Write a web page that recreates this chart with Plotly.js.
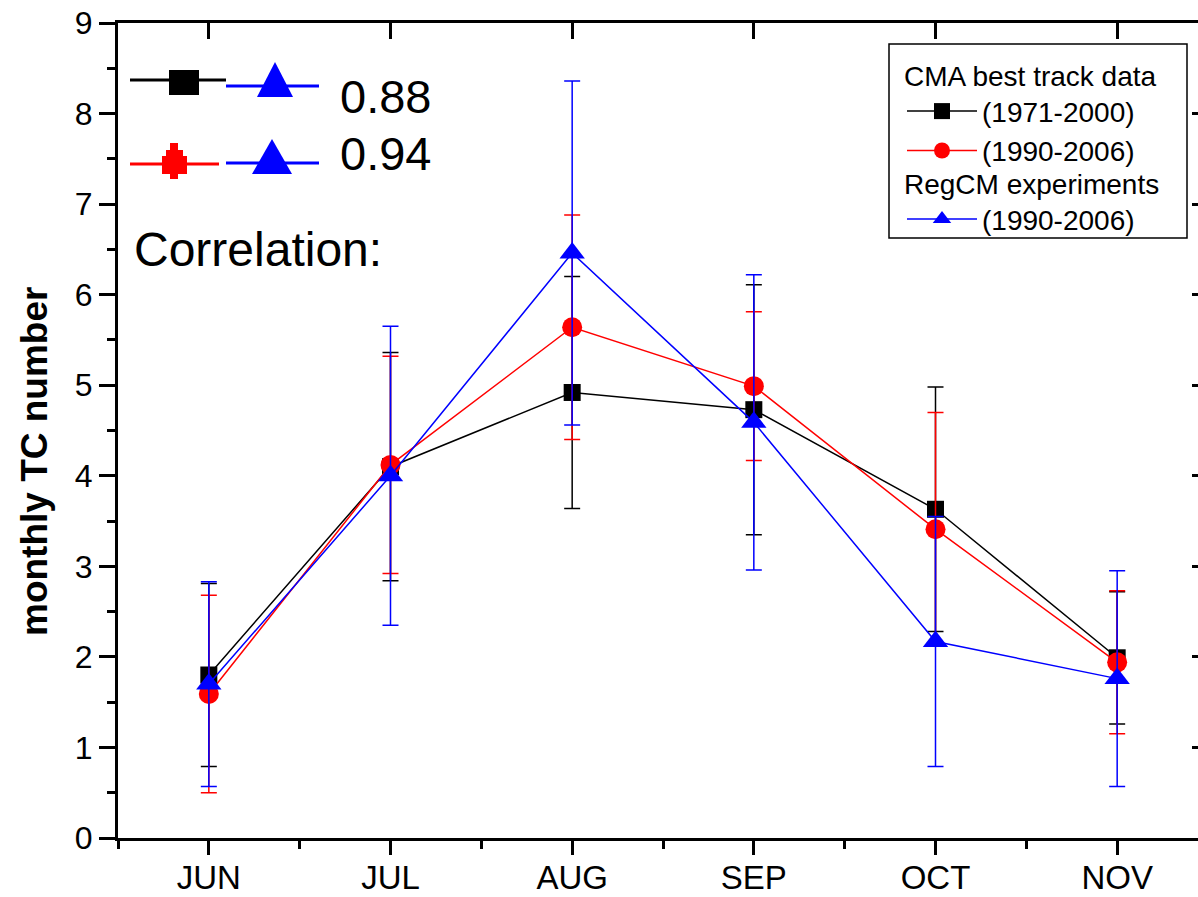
<!DOCTYPE html>
<html>
<head>
<meta charset="utf-8">
<script src="https://cdn.plot.ly/plotly-3.0.1.min.js"></script>
<style>
  html, body { margin: 0; padding: 0; overflow: hidden; background: #fff; }
  #chart { width: 1218px; height: 940px; }
</style>
</head>
<body>
<div id="chart"></div>
<script>
// ---- data ----
const months = ['JUN', 'JUL', 'AUG', 'SEP', 'OCT', 'NOV'];
const cma7100 = [1.80, 4.10, 4.92, 4.73, 3.63, 1.99];
const cma7100Err = [1.01, 1.26, 1.28, 1.38, 1.35, 0.73];
const cma9006 = [1.59, 4.12, 5.64, 4.99, 3.41, 1.94];
const cma9006Err = [1.09, 1.20, 1.24, 0.82, 1.29, 0.79];
const regcm = [1.70, 4.00, 6.46, 4.59, 2.17, 1.76];
const regcmErr = [1.13, 1.65, 1.90, 1.63, 1.38, 1.19];
const corrLabels = ['0.88', '0.94'];
const yTicks = [0, 1, 2, 3, 4, 5, 6, 7, 8, 9];

const xIdx = months.map((m, i) => i);
const FONT = 'Liberation Sans, Arial, sans-serif';

// plot-area geometry in page pixels (for decorations only)
const L = 118, R = 1208, T = 23, B = 838;
const PX = x => (x - L) / (R - L);
const PY = y => (B - y) / (B - T);

function mk(name, y, err, color, symbol, size, legend) {
  return {
    type: 'scatter', mode: 'lines+markers', name: name,
    x: xIdx, y: y, legend: legend,
    line: { color: color, width: 1.5 },
    marker: { color: color, symbol: symbol, size: size },
    error_y: { type: 'data', array: err, visible: true, color: color, thickness: 1.5, width: 8 }
  };
}

const traces = [
  mk('(1971-2000)', cma7100, cma7100Err, '#000000', 'square', 17, 'legend'),
  mk('(1990-2006)', cma9006, cma9006Err, '#ff0000', 'circle', 20, 'legend'),
  mk('(1990-2006)', regcm, regcmErr, '#0000ff', 'triangle-up', 22, 'legend2'),
  // empty helper traces so the frame axes (long bottom ticks, top and right ticks) are drawn
  { type: 'scatter', x: [null], y: [null], xaxis: 'x3', yaxis: 'y', showlegend: false, hoverinfo: 'skip' },
  { type: 'scatter', x: [null], y: [null], xaxis: 'x2', yaxis: 'y2', showlegend: false, hoverinfo: 'skip' }
];

// decorations: correlation key (top-left) and legend box
const shapes = [];
function hline(x0, x1, y, color) {
  shapes.push({ type: 'line', xref: 'paper', yref: 'paper', x0: PX(x0), x1: PX(x1), y0: PY(y), y1: PY(y),
    line: { color: color, width: 3 } });
}
function tri(cx, top, bot, halfw, color) {
  shapes.push({ type: 'path', xref: 'paper', yref: 'paper',
    path: `M ${PX(cx)} ${PY(top)} L ${PX(cx + halfw)} ${PY(bot)} L ${PX(cx - halfw)} ${PY(bot)} Z`,
    fillcolor: color, line: { color: color, width: 0 } });
}
// row 1
hline(130, 226, 80, '#000000');
shapes.push({ type: 'rect', xref: 'paper', yref: 'paper', x0: PX(169), x1: PX(199), y0: PY(95), y1: PY(70),
  fillcolor: '#000000', line: { width: 0 } });
hline(226, 319, 86, '#0000ff');
tri(275, 62, 97, 18, '#0000ff');
// row 2
hline(130, 219, 164, '#ff0000');
shapes.push({ type: 'path', xref: 'paper', yref: 'paper',
  path: [[170,143],[178,143],[178,150],[183,150],[183,156],[187,156],[187,174],[178,174],[178,179],[170,179],[170,174],[162,174],[162,156],[166,156],[166,150],[170,150]]
    .map((p, i) => (i ? 'L ' : 'M ') + PX(p[0]) + ' ' + PY(p[1])).join(' ') + ' Z',
  fillcolor: '#ff0000', line: { width: 0 } });
hline(226, 319, 163, '#0000ff');
tri(272, 139, 174, 20, '#0000ff');
// legend frame
shapes.push({ type: 'rect', xref: 'paper', yref: 'paper', x0: PX(889), x1: PX(1187), y0: PY(238), y1: PY(44),
  line: { color: '#000000', width: 1.5 }, fillcolor: 'rgba(0,0,0,0)' });

const annotations = [
  { xref: 'paper', yref: 'paper', x: PX(338), y: PY(96), xanchor: 'left', yanchor: 'middle', showarrow: false,
    text: corrLabels[0], font: { family: FONT, size: 47, color: '#000' } },
  { xref: 'paper', yref: 'paper', x: PX(338), y: PY(154), xanchor: 'left', yanchor: 'middle', showarrow: false,
    text: corrLabels[1], font: { family: FONT, size: 47, color: '#000' } },
  { xref: 'paper', yref: 'paper', x: PX(132), y: PY(250), xanchor: 'left', yanchor: 'middle', showarrow: false,
    text: 'Correlation:', font: { family: FONT, size: 48, color: '#000' } },
  // y-axis title
  { xref: 'paper', yref: 'paper', x: PX(34), y: PY(462), xanchor: 'center', yanchor: 'middle', showarrow: false,
    textangle: -90, text: '<b>monthly TC number</b>', font: { family: FONT, size: 37, color: '#000' } }
];

const legendCommon = {
  bgcolor: 'rgba(0,0,0,0)', borderwidth: 0, xanchor: 'left', yanchor: 'top',
  font: { family: FONT, size: 28, color: '#000' }, itemwidth: 70, tracegroupgap: 0
};

const AX = { showgrid: false, zeroline: false, linecolor: '#000', tickcolor: '#000' };

const layout = {
  width: 1218, height: 940,
  margin: { l: L, r: 1218 - R, t: T, b: 940 - B },
  paper_bgcolor: '#ffffff', plot_bgcolor: '#ffffff',
  showlegend: true,
  font: { family: FONT, color: '#000' },
  xaxis: Object.assign({}, AX, {
    range: [-0.5, 5.5], tickmode: 'array', tickvals: xIdx, ticktext: months,
    ticks: 'outside', ticklen: 8, tickwidth: 3,
    showline: true, linewidth: 3,
    tickfont: { family: FONT, size: 33, color: '#000' },
    minor: { tickmode: 'array', tickvals: xIdx.map(i => i - 0.5).concat([5.5]), ticks: 'outside', ticklen: 8, tickwidth: 3, tickcolor: '#000', showgrid: false }
  }),
  xaxis3: Object.assign({}, AX, {
    overlaying: 'x', side: 'bottom', anchor: 'y', range: [-0.5, 5.5], tickmode: 'array', tickvals: xIdx,
    ticks: 'outside', ticklen: 16, tickwidth: 3, showticklabels: false, showline: false
  }),
  xaxis2: Object.assign({}, AX, {
    overlaying: 'x', side: 'top', anchor: 'y2', range: [-0.5, 5.5], tickmode: 'array', tickvals: xIdx,
    ticks: 'inside', ticklen: 16, tickwidth: 3, showticklabels: false,
    showline: true, linewidth: 3
  }),
  yaxis: Object.assign({}, AX, {
    range: [0, 9], tickmode: 'array', tickvals: yTicks,
    ticks: 'outside', ticklen: 16, tickwidth: 3,
    showline: true, linewidth: 3,
    tickfont: { family: FONT, size: 32, color: '#000' },
    minor: { dtick: 0.5, tick0: 0, ticks: 'outside', ticklen: 8, tickwidth: 3, tickcolor: '#000', showgrid: false }
  }),
  yaxis2: Object.assign({}, AX, {
    overlaying: 'y', side: 'right', anchor: 'x2', range: [0, 9], tickmode: 'array', tickvals: yTicks,
    ticks: 'inside', ticklen: 16, tickwidth: 3, showticklabels: false,
    showline: true, linewidth: 3
  }),
  legend: Object.assign({}, legendCommon, { x: PX(902), y: PY(50),
    title: { text: 'CMA best track data', font: { family: FONT, size: 28, color: '#000' } } }),
  legend2: Object.assign({}, legendCommon, { x: PX(902), y: PY(158),
    title: { text: 'RegCM experiments', font: { family: FONT, size: 28, color: '#000' } } }),
  shapes: shapes,
  annotations: annotations
};

Plotly.newPlot('chart', traces, layout, { displayModeBar: false, staticPlot: true });
</script>
</body>
</html>
